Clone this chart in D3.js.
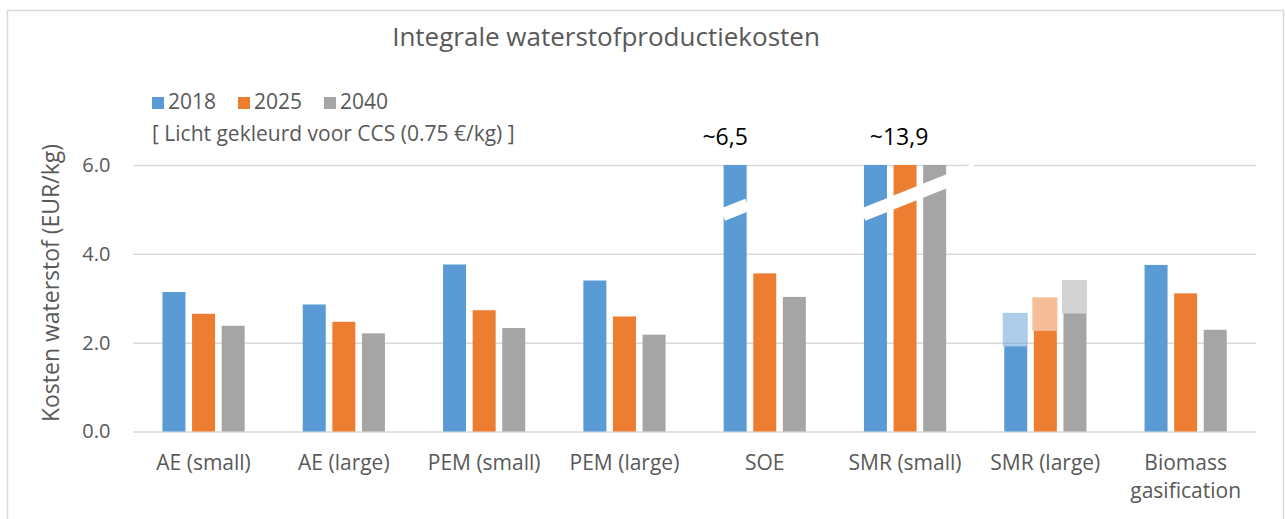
<!DOCTYPE html>
<html>
<head>
<meta charset="utf-8">
<script src="https://cdn.jsdelivr.net/npm/d3@7"></script>
<style>
  body { margin: 0; background: #fff; }
  text { font-family: "Open Sans", sans-serif; fill: #595959; }
</style>
</head>
<body>
<div class="chart"></div>
<script>
const categories = ["AE (small)", "AE (large)", "PEM (small)", "PEM (large)", "SOE", "SMR (small)", "SMR (large)", "Biomass gasification"]
const years = ["2018", "2025", "2040"]
const values2018 = [3.14, 2.86, 3.76, 3.40, 6.5, 13.9, 1.92, 3.75]
const values2025 = [2.65, 2.47, 2.73, 2.59, 3.56, 13.9, 2.27, 3.11]
const values2040 = [2.38, 2.21, 2.33, 2.18, 3.03, 13.9, 2.66, 2.29]
// extra CCS cost, only shown for SMR (large)
const ccsExtra = [0, 0, 0, 0, 0, 0, 0.75, 0]
const yTicks = [0, 2, 4, 6]
const breakLabels = [
  { category: "SOE", text: "~6,5" },
  { category: "SMR (small)", text: "~13,9" }
]

const drawChart = () => {
  const colors = {
    "2018": "#5B9BD5",
    "2025": "#ED7D31",
    "2040": "#A5A5A5",
    grid: "#D9D9D9",
    text: "#595959"
  }

  const width = 1285
  const height = 519
  const plot = { left: 133.4, right: 1255.8, top: 165, bottom: 431.5 }
  const yMax = 6

  const seriesValues = { "2018": values2018, "2025": values2025, "2040": values2040 }
  const data = categories.map((c, i) => ({
    category: c,
    ccs: ccsExtra[i],
    bars: years.map(y => ({ year: y, value: seriesValues[y][i], ccs: ccsExtra[i] }))
  }))

  const xScale = d3.scaleBand()
    .domain(categories)
    .range([plot.left, plot.right])

  const xInner = d3.scaleBand()
    .domain(years)
    .range([0, 82.2])
    .paddingInner(0.223)

  const groupOffset = (xScale.bandwidth() - 82.2) / 2

  const yScale = d3.scaleLinear()
    .domain([0, yMax])
    .range([plot.bottom, plot.top])

  const svg = d3.select(".chart")
    .append("svg")
      .attr("width", width)
      .attr("height", height)

  // chart border
  svg.append("rect")
      .attr("x", 7.5)
      .attr("y", 10.5)
      .attr("width", 1276)
      .attr("height", 520)
      .attr("fill", "#fff")
      .attr("stroke", colors.grid)
      .attr("stroke-width", 1.5)

  svg.append("text")
      .attr("x", 606)
      .attr("y", 46)
      .attr("text-anchor", "middle")
      .style("font-size", "26px")
      .text("Integrale waterstofproductiekosten")

  // gridlines + y axis
  const yAxisGenerator = d3.axisLeft(yScale)
    .tickValues(yTicks)
    .tickFormat(d3.format(".1f"))
    .tickSize(-(plot.right - plot.left))
    .tickPadding(23)

  svg.append("g")
      .attr("transform", `translate(${plot.left},0)`)
      .call(yAxisGenerator)
      .call(g => g.select(".domain").remove())
      .call(g => g.selectAll(".tick line")
          .attr("stroke", colors.grid)
          .attr("stroke-width", 1.5))
      .call(g => g.selectAll(".tick text")
          .attr("fill", colors.text)
          .style("font-family", "'Open Sans', sans-serif")
          .style("font-size", "20px"))

  svg.append("text")
      .attr("transform", `translate(51, 283) rotate(-90)`)
      .attr("dy", "0.35em")
      .attr("text-anchor", "middle")
      .style("font-size", "23px")
      .text("Kosten waterstof (EUR/kg)")

  // bars
  const groups = svg.selectAll(".group")
    .data(data)
    .join("g")
      .attr("class", "group")
      .attr("transform", d => `translate(${xScale(d.category) + groupOffset},0)`)

  groups.selectAll(".bar")
    .data(d => d.bars)
    .join("rect")
      .attr("class", "bar")
      .attr("x", d => xInner(d.year))
      .attr("width", xInner.bandwidth())
      .attr("y", d => yScale(Math.min(d.value, yMax)))
      .attr("height", d => plot.bottom - yScale(Math.min(d.value, yMax)))
      .attr("fill", d => colors[d.year])

  // lighter stacked part for CCS
  groups.selectAll(".bar-ccs")
    .data(d => d.bars.filter(b => b.ccs > 0 && b.value < yMax))
    .join("rect")
      .attr("class", "bar-ccs")
      .attr("x", d => xInner(d.year) - 1.5)
      .attr("width", xInner.bandwidth() + 2)
      .attr("y", d => yScale(d.value + d.ccs))
      .attr("height", d => yScale(d.value) - yScale(d.value + d.ccs))
      .attr("fill", d => colors[d.year])
      .attr("fill-opacity", 0.5)

  // axis breaks for bars above the scale
  const breakValue = 4.88
  const slope = 0.4
  groups.each(function(d) {
    const clipped = d.bars.filter(b => b.value > yMax)
    if (!clipped.length) return
    const x0 = xInner(clipped[0].year) - 1
    const lastX = xInner(clipped[clipped.length - 1].year) + xInner.bandwidth()
    const x1 = clipped.length > 1 ? lastX + 29 : lastX + 1
    const y0 = yScale(breakValue)
    d3.select(this).append("line")
        .attr("x1", x0)
        .attr("y1", y0)
        .attr("x2", x1)
        .attr("y2", y0 - slope * (x1 - x0))
        .attr("stroke", "#fff")
        .attr("stroke-width", 13)
  })

  svg.selectAll(".break-label")
    .data(breakLabels)
    .join("text")
      .attr("class", "break-label")
      .attr("x", d => {
        const i = categories.indexOf(d.category)
        const clipped = data[i].bars.filter(b => b.value > yMax)
        const first = xInner(clipped[0].year)
        const last = xInner(clipped[clipped.length - 1].year) + xInner.bandwidth()
        return xScale(d.category) + groupOffset + (first + last) / 2 - (clipped.length > 1 ? 6 : 10)
      })
      .attr("y", 145)
      .attr("text-anchor", "middle")
      .style("font-size", "23px")
      .style("fill", "#000")
      .text(d => d.text)

  // x labels
  const xLabels = svg.selectAll(".x-label")
    .data(categories)
    .join("text")
      .attr("class", "x-label")
      .attr("x", d => xScale(d) + xScale.bandwidth() / 2)
      .attr("y", 470)
      .attr("text-anchor", "middle")
      .style("font-size", "21px")

  xLabels.selectAll("tspan")
    .data(d => d.startsWith("Biomass") ? d.split(" ") : [d])
    .join("tspan")
      .attr("x", function() { return this.parentNode.getAttribute("x") })
      .attr("dy", (d, i) => i === 0 ? 0 : 28)
      .text(d => d)

  // legend
  const legend = svg.append("g")
      .attr("transform", "translate(152,0)")

  const legendItems = legend.selectAll(".legend-item")
    .data(years)
    .join("g")
      .attr("class", "legend-item")
      .attr("transform", (d, i) => `translate(${i * 86},0)`)

  legendItems.append("rect")
      .attr("y", 97)
      .attr("width", 12)
      .attr("height", 12)
      .attr("fill", d => colors[d])

  legendItems.append("text")
      .attr("x", 16)
      .attr("y", 109)
      .style("font-size", "21px")
      .text(d => d)

  legend.append("text")
      .attr("x", 0)
      .attr("y", 141)
      .style("font-size", "21px")
      .text("[ Licht gekleurd voor CCS (0.75 €/kg) ]")
}
drawChart()
</script>
</body>
</html>
